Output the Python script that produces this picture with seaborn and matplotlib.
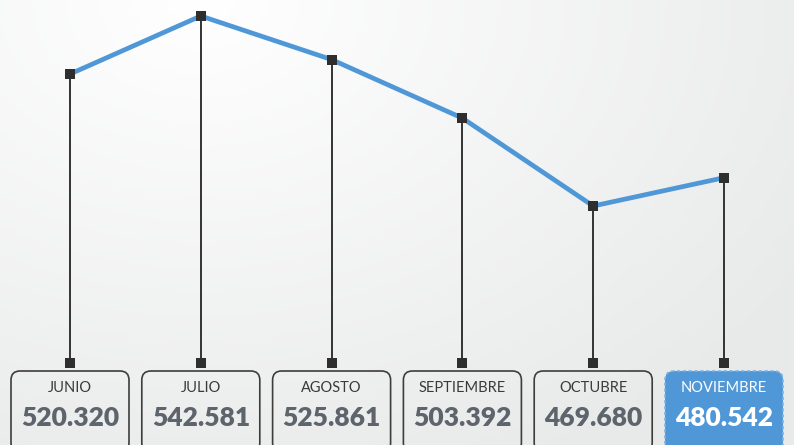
import numpy as np
import matplotlib.pyplot as plt
import seaborn as sns
from matplotlib.patches import FancyBboxPatch

months = ['JUNIO', 'JULIO', 'AGOSTO', 'SEPTIEMBRE', 'OCTUBRE', 'NOVIEMBRE']
values = [520320, 542581, 525861, 503392, 469680, 480542]
labels = ['520.320', '542.581', '525.861', '503.392', '469.680', '480.542']

blue = '#4f97d6'
dark = '#2e2e2e'

sns.set_style('white')
plt.rcParams['font.family'] = ['Lato', 'DejaVu Sans']

W, H = 794, 445
fig = plt.figure(figsize=(W / 100, H / 100), dpi=100)
ax = fig.add_axes([0, 0, 1, 1])

# vertical scale: max value at 16px from top, min value at 206px
k = (max(values) - min(values)) / (206 - 16)
ytop = max(values) + 16 * k
ybot = ytop - H * k
def py(p):
    return ytop - p * k

ax.set_xlim(-70 / 130.8, (W - 70) / 130.8)
ax.set_ylim(ybot, ytop)
ax.axis('off')

# background gradient
gx, gy = np.meshgrid(np.linspace(0, 1, 200), np.linspace(0, 1, 120))
d = np.sqrt(((gx - 0.25) * 1.3) ** 2 + (gy * 1.0) ** 2)
d = np.clip(d / 1.2, 0, 1)
c0 = np.array([1.0, 1.0, 1.0])
c1 = np.array([0.91, 0.914, 0.914])
img = c0 + (c1 - c0) * d[..., None]
ax.imshow(img, extent=[0, 1, 0, 1], transform=ax.transAxes, aspect='auto',
          origin='upper', zorder=0)

x = np.arange(len(months))
y_drop = py(363)

# drop lines
ax.vlines(x, y_drop, values, color='#333333', lw=1.4, zorder=2)
sns.lineplot(x=x, y=values, ax=ax, color=blue, lw=3.4, zorder=3)
ax.scatter(x, values, marker='s', s=46, color=dark, zorder=4, linewidths=0)
ax.scatter(x, [y_drop] * len(x), marker='s', s=46, color=dark, zorder=4, linewidths=0)

# boxes
bw = 118 / 130.8
pad = 9 / 130.8
aspect = (9 * k) / pad
for i, (m, lab) in enumerate(zip(months, labels)):
    last = i == len(months) - 1
    y0 = py(452)
    y1 = py(371)
    box = FancyBboxPatch((x[i] - bw / 2 + pad, y0 + 9 * k), bw - 2 * pad, (y1 - y0) - 18 * k,
                         boxstyle='round,pad=%f' % pad, mutation_aspect=aspect,
                         facecolor=blue if last else 'none',
                         edgecolor='#7fb4e4' if last else '#3d3d3d',
                         lw=1.2, ls=(0, (2, 1.5)) if last else '-', zorder=5)
    ax.add_patch(box)
    tc = 'white' if last else '#3a3a3a'
    vc = 'white' if last else '#5d646c'
    ax.text(x[i], py(388.5), m, ha='center', va='center', fontsize=10.5,
            fontweight='normal', color=tc, zorder=6)
    ax.text(x[i], py(418), lab, ha='center', va='center', fontsize=19,
            fontweight='heavy', color=vc, zorder=6)

fig.savefig('out.png', dpi=100)
